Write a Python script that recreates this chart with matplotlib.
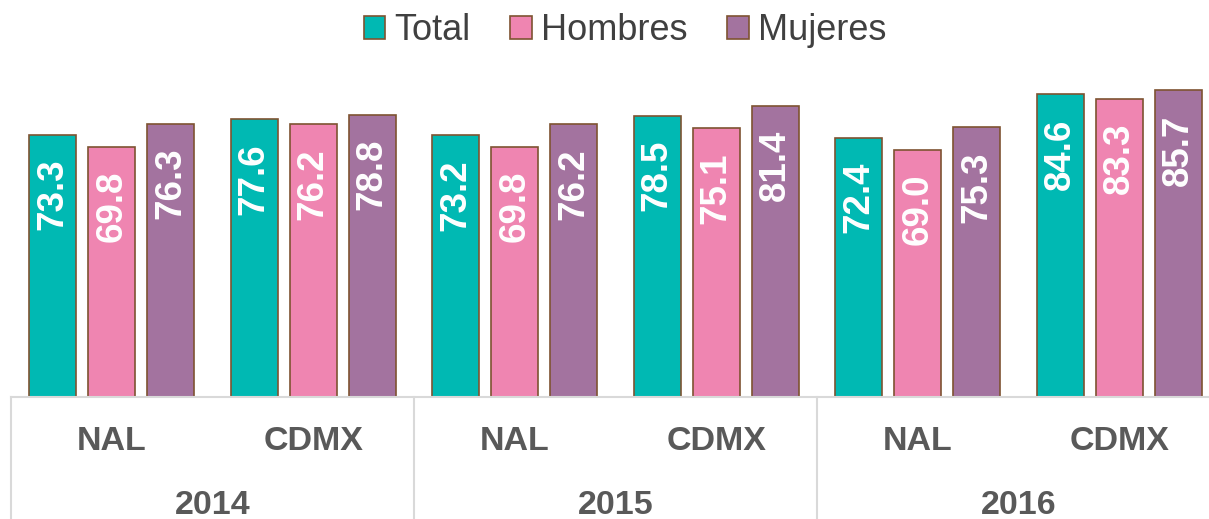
import matplotlib.pyplot as plt
import numpy as np

plt.rcParams['font.family'] = ['Liberation Sans', 'DejaVu Sans']

years = ['2014', '2015', '2016']
regions = ['NAL', 'CDMX']
series = ['Total', 'Hombres', 'Mujeres']
total = [73.3, 77.6, 73.2, 78.5, 72.4, 84.6]
hombres = [69.8, 76.2, 69.8, 75.1, 69.0, 83.3]
mujeres = [76.3, 78.8, 76.2, 81.4, 75.3, 85.7]
colors = ['#00B9B3', '#EF85B1', '#A3739F']
edge = '#7E5331'

W, H = 1209, 519
fig = plt.figure(figsize=(W / 100, H / 100), dpi=100)
# axes in pixel terms: left 11, baseline at 397, top at 60, one year = 403 px
ax = fig.add_axes([11 / W, (H - 397) / H, 3 * 403 / W, 337 / H])

x = np.arange(len(total)) + 0.5
step = 59 / 201.5
width = 47 / 201.5
for k, (name, vals) in enumerate(zip(series, [total, hombres, mujeres])):
    pos = x + (k - 1) * step
    ax.bar(pos, vals, width, color=colors[k], edgecolor=edge, linewidth=1.2, label=name)
    for p, v in zip(pos, vals):
        ax.annotate(f'{v:.1f}', xy=(p, v), xytext=(0, -24), textcoords='offset pixels',
                    rotation=90, ha='center', va='top', color='white',
                    fontsize=26.5, fontweight='bold')

ax.set_xlim(0, 6)
ax.set_ylim(0, 337 / 3.58)
for s in ['top', 'right', 'left']:
    ax.spines[s].set_visible(False)
ax.spines['bottom'].set_color('#D9D9D9')
ax.spines['bottom'].set_linewidth(1.5)
ax.set_xticks([])
ax.set_yticks([])

tr = ax.get_xaxis_transform()
for xi in [0, 2, 4, 6]:
    ax.plot([xi, xi], [0, -122 / 337], color='#D9D9D9', lw=1.5, transform=tr, clip_on=False)

for i, xc in enumerate(x):
    ax.annotate(regions[i % 2], xy=(xc, 0), xycoords=tr, xytext=(0, -44),
                textcoords='offset pixels', ha='center', va='center',
                fontsize=24.5, fontweight='bold', color='#595959')
for i, yr in enumerate(years):
    ax.annotate(yr, xy=(2 * i + 1, 0), xycoords=tr, xytext=(0, -108),
                textcoords='offset pixels', ha='center', va='center',
                fontsize=24.5, fontweight='bold', color='#595959')

fig.legend(loc='center', bbox_to_anchor=(0.517, 1 - 31 / H), ncol=3, frameon=False,
           fontsize=26, handlelength=0.6, handleheight=0.6, handletextpad=0.25,
           columnspacing=1.1, labelcolor='#404040')

fig.savefig('out.png', dpi=100)
